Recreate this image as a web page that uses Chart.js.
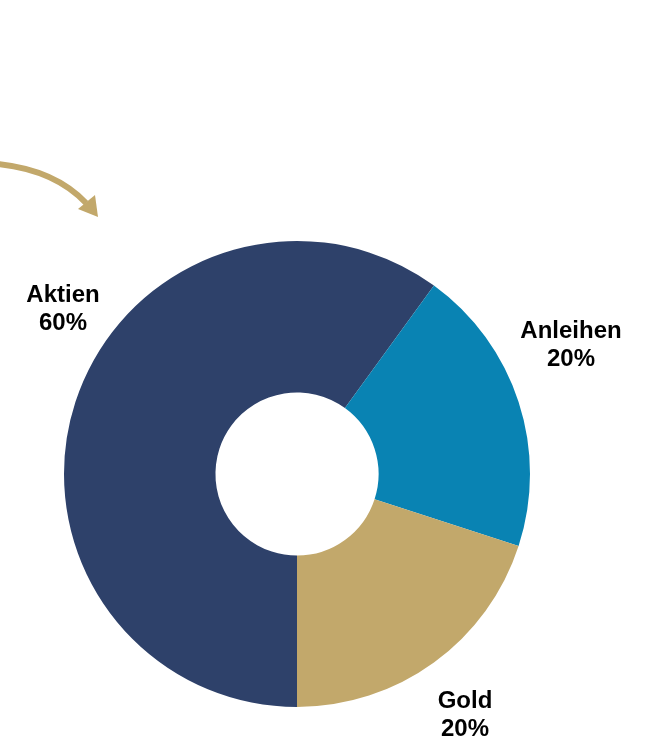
<!DOCTYPE html>
<html>
<head>
<meta charset="utf-8">
<script src="https://cdn.jsdelivr.net/npm/chart.js@4/dist/chart.umd.min.js"></script>
<style>
  html, body { margin: 0; padding: 0; background: #ffffff; }
  #wrap { width: 649px; height: 740px; position: relative; }
</style>
</head>
<body>
<div id="wrap"><canvas id="chart" width="649" height="740"></canvas></div>
<script>
// Portfolio allocation
const categories = ['Aktien', 'Anleihen', 'Gold'];
const shares = [60, 20, 20];
const sliceColors = ['#2E416A', '#0983B3', '#C2A86B'];

// Label anchor offsets from the doughnut centre (px)
const labelOffsets = [
  { dx: -234, dy: -165 },
  { dx: 274, dy: -129 },
  { dx: 168, dy: 241 }
];

const sliceLabels = {
  id: 'sliceLabels',
  afterDatasetsDraw(chart) {
    const ctx = chart.ctx;
    const meta = chart.getDatasetMeta(0);
    const arc = meta.data[0];
    const cx = arc.x, cy = arc.y;
    ctx.save();
    ctx.fillStyle = '#000000';
    ctx.font = 'bold 24px "Liberation Sans", Arial, sans-serif';
    ctx.textAlign = 'center';
    ctx.textBaseline = 'middle';
    const values = chart.data.datasets[0].data;
    chart.data.labels.forEach((name, i) => {
      const o = labelOffsets[i];
      const x = cx + o.dx, y = cy + o.dy;
      ctx.fillText(name, x, y - 14);
      ctx.fillText(values[i] + '%', x, y + 14);
    });
    ctx.restore();
  }
};

// Curved pointer arrow in the top-left corner
const pointerArrow = {
  id: 'pointerArrow',
  afterDraw(chart) {
    const ctx = chart.ctx;
    ctx.save();
    ctx.strokeStyle = '#C2A86B';
    ctx.fillStyle = '#C2A86B';
    ctx.lineWidth = 6;
    ctx.lineCap = 'butt';
    ctx.beginPath();
    ctx.moveTo(-2, 164);
    ctx.quadraticCurveTo(55, 170, 86, 203);
    ctx.stroke();
    ctx.beginPath();
    ctx.moveTo(78, 209);
    ctx.lineTo(95, 195);
    ctx.lineTo(98, 217);
    ctx.closePath();
    ctx.fill();
    ctx.restore();
  }
};

new Chart(document.getElementById('chart'), {
  type: 'doughnut',
  data: {
    labels: categories,
    datasets: [{
      data: shares,
      backgroundColor: sliceColors,
      borderWidth: 0
    }]
  },
  options: {
    responsive: false,
    animation: false,
    rotation: 180,
    cutout: '35%',
    layout: { padding: { left: 64, right: 119, top: 241, bottom: 33 } },
    plugins: {
      legend: { display: false },
      tooltip: { enabled: false }
    }
  },
  plugins: [sliceLabels, pointerArrow]
});
</script>
</body>
</html>
